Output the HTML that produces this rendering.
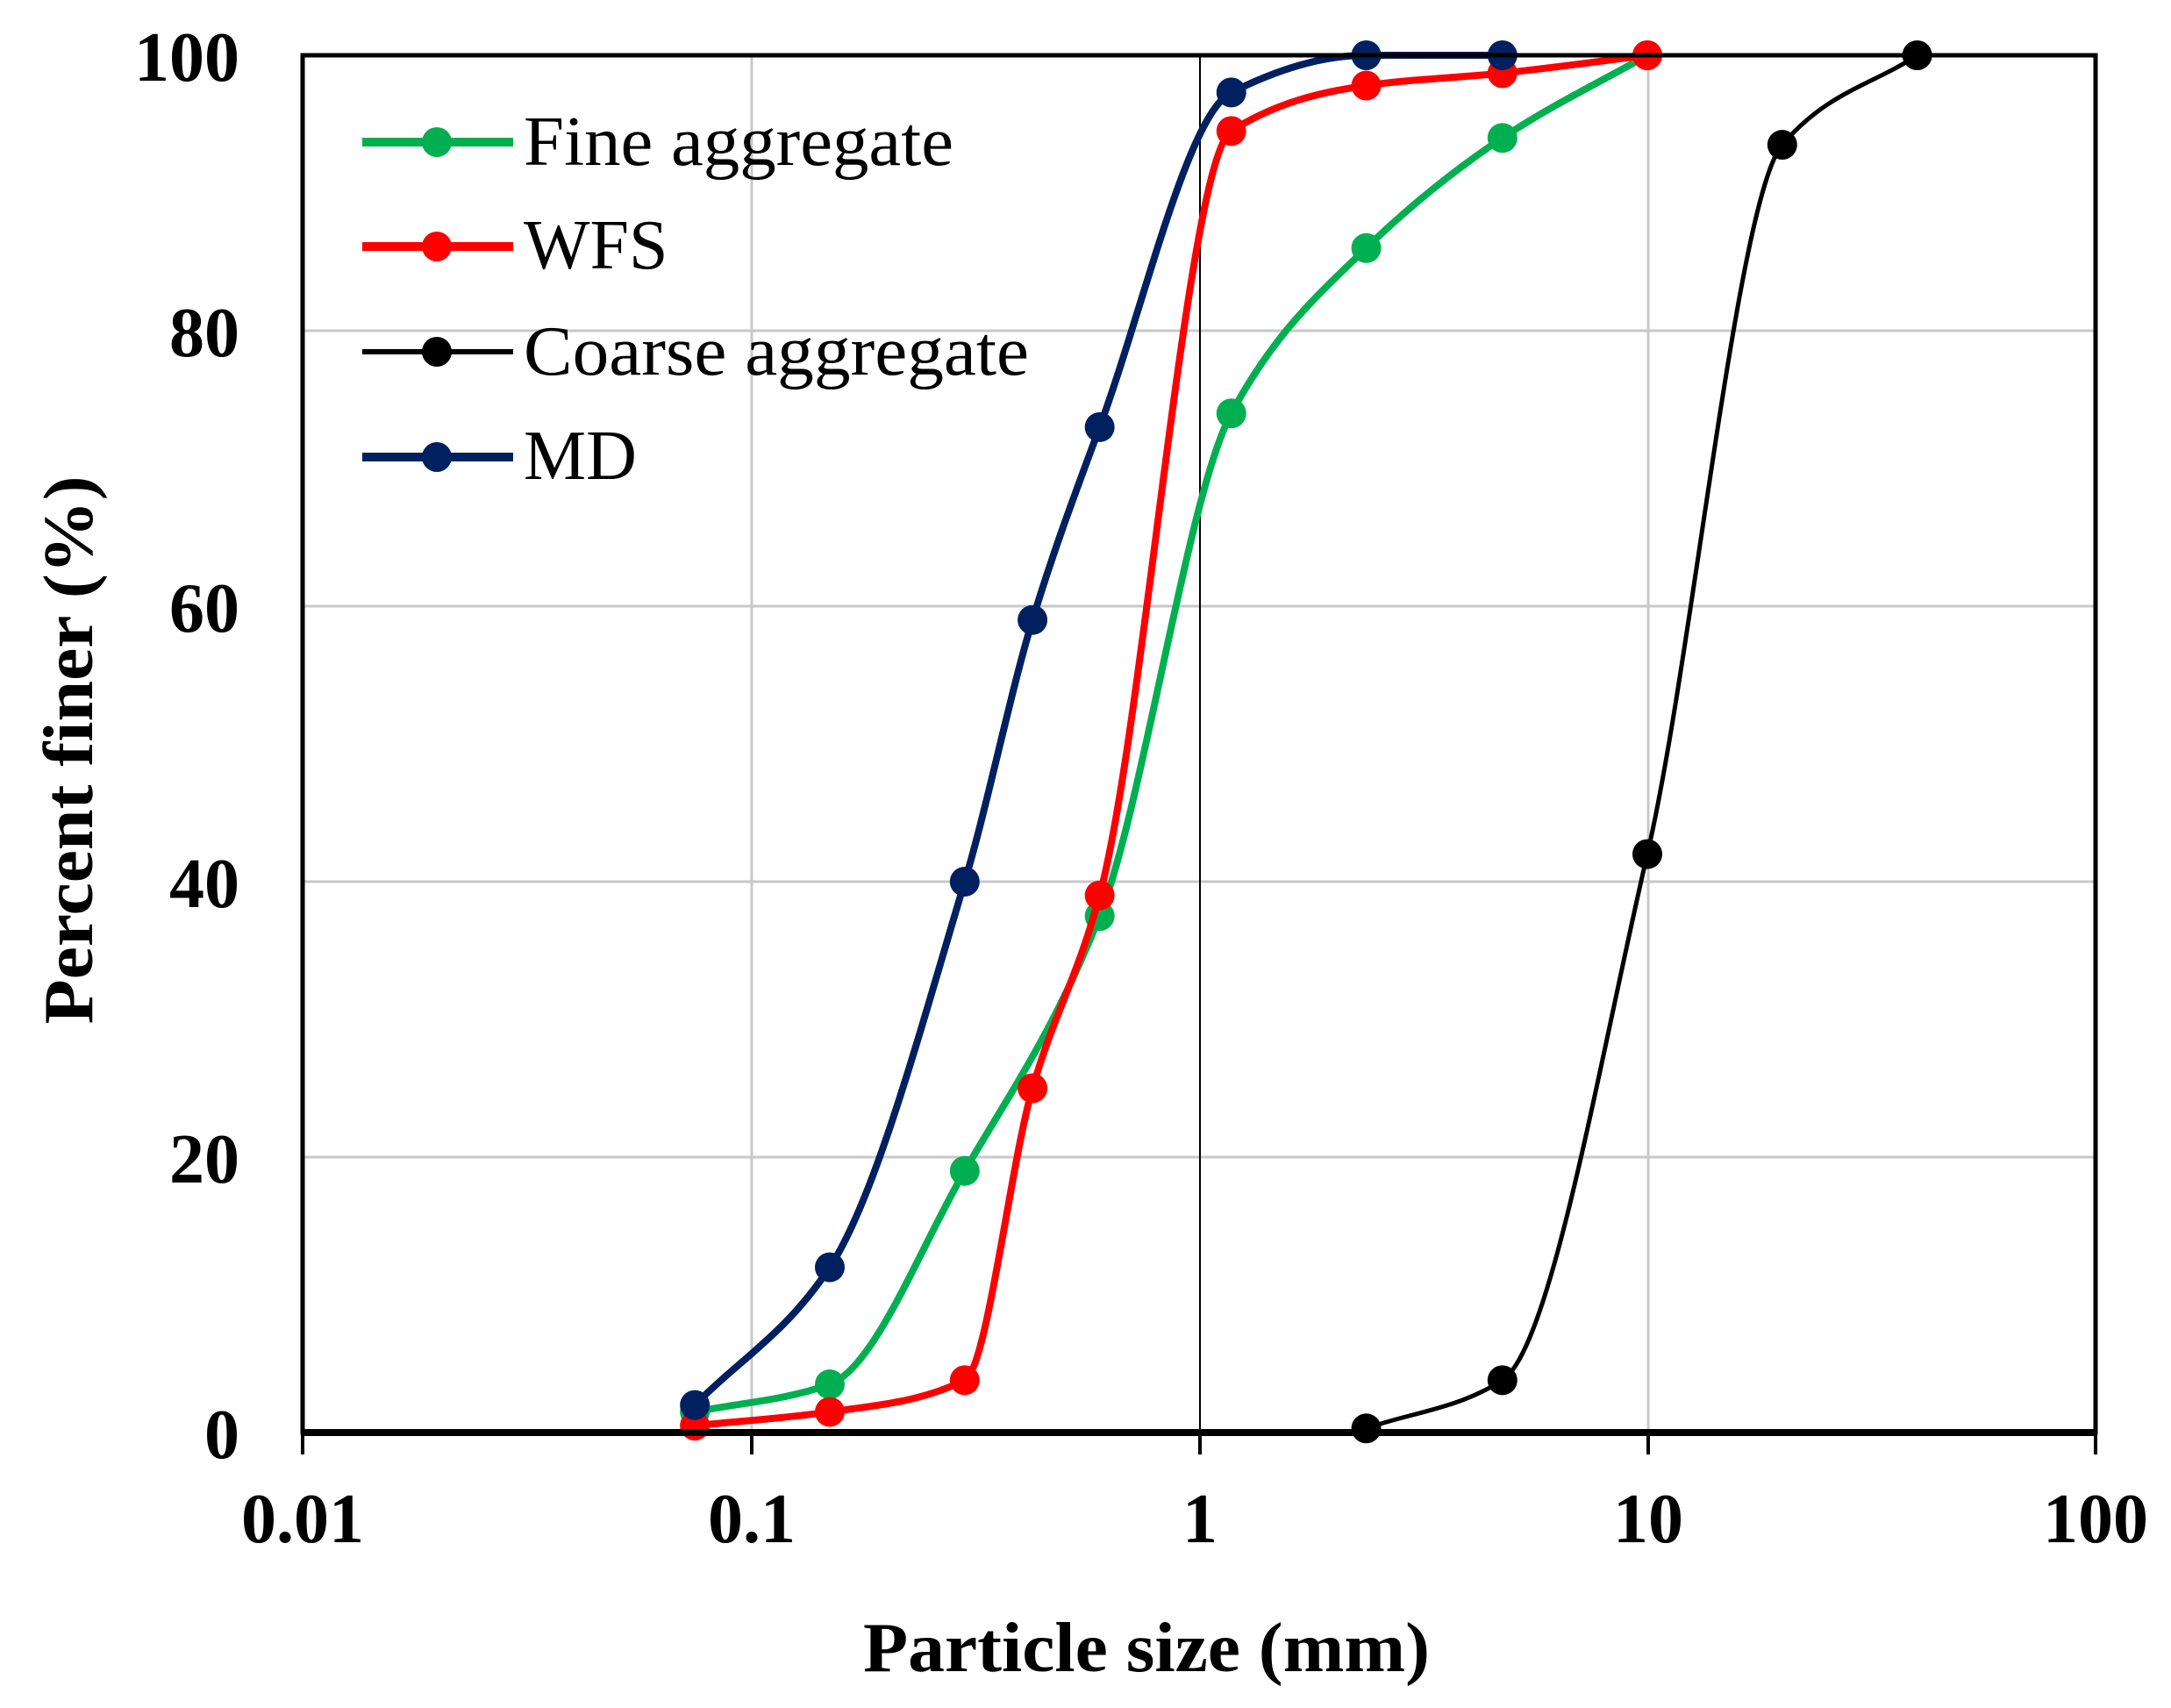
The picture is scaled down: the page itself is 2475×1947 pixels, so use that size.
<!DOCTYPE html>
<html><head><meta charset="utf-8"><style>
html,body{margin:0;padding:0;background:#fff}
svg{display:block}
text{font-family:"Liberation Serif","Times New Roman",serif;fill:#000}
</style></head><body>
<svg id="s" width="2475" height="1947" viewBox="0 0 2475 1947" xmlns="http://www.w3.org/2000/svg">
<g stroke="#c8c8c8" stroke-width="3">
<line x1="345" y1="377" x2="2389" y2="377"/><line x1="345" y1="691" x2="2389" y2="691"/>
<line x1="345" y1="1005" x2="2389" y2="1005"/><line x1="345" y1="1319" x2="2389" y2="1319"/>
<line x1="857" y1="63" x2="857" y2="1633"/><line x1="1879" y1="63" x2="1879" y2="1633"/>
</g>
<line x1="1368" y1="63" x2="1368" y2="1633" stroke="#000" stroke-width="2"/>
<g stroke="#000" stroke-width="4">
<line x1="345" y1="1633" x2="345" y2="1658"/><line x1="857" y1="1633" x2="857" y2="1658"/>
<line x1="1368" y1="1633" x2="1368" y2="1658"/><line x1="1879" y1="1633" x2="1879" y2="1658"/>
<line x1="2389" y1="1633" x2="2389" y2="1658"/>
</g>
<g id="series"></g>
<rect x="345" y="63" width="2044" height="1570" fill="none" stroke="#000" stroke-width="5"/>
<line x1="345" y1="1633" x2="2389" y2="1633" stroke="#000" stroke-width="8"/>
<g font-size="80" font-weight="bold" text-anchor="end">
<text x="273" y="92">100</text><text x="273" y="406">80</text><text x="273" y="720">60</text>
<text x="273" y="1034">40</text><text x="273" y="1348">20</text><text x="273" y="1662">0</text>
</g>
<g font-size="80" font-weight="bold" text-anchor="middle">
<text x="345" y="1758">0.01</text><text x="857" y="1758">0.1</text><text x="1368" y="1758">1</text>
<text x="1879" y="1758">10</text><text x="2389" y="1758">100</text>
<text x="1307" y="1905" textLength="646" lengthAdjust="spacingAndGlyphs">Particle size (mm)</text>
<text transform="translate(105,855) rotate(-90)" textLength="625" lengthAdjust="spacingAndGlyphs">Percent finer (%)</text>
</g>
<g font-size="80">
<line x1="413" y1="162" x2="585" y2="162" stroke="#00b050" stroke-width="10"/><circle cx="498" cy="162" r="17" fill="#00b050"/>
<text x="597" y="188" textLength="490" lengthAdjust="spacingAndGlyphs">Fine aggregate</text>
<line x1="413" y1="281" x2="585" y2="281" stroke="#ff0000" stroke-width="10"/><circle cx="498" cy="281" r="17" fill="#ff0000"/>
<text x="597" y="306">WFS</text>
<line x1="413" y1="401" x2="585" y2="401" stroke="#000" stroke-width="6"/><circle cx="498" cy="401" r="17" fill="#000"/>
<text x="597" y="427" textLength="576" lengthAdjust="spacingAndGlyphs">Coarse aggregate</text>
<line x1="413" y1="521" x2="585" y2="521" stroke="#002060" stroke-width="10"/><circle cx="498" cy="521" r="17" fill="#002060"/>
<text x="597" y="546">MD</text>
</g>
</svg>
<script>
function X(v){return 345+511*(Math.log10(v)+2);}
function Y(p){return 1633-15.7*p;}
var S=[
["#00b050",8,[[0.075,1.5],[0.15,3.5],[0.3,19],[0.6,37.5],[1.18,74],[2.36,86],[4.75,94],[10,100]]],
["#ff0000",8,[[0.075,0.5],[0.15,1.5],[0.3,3.8],[0.425,25],[0.6,39],[1.18,94.5],[2.36,97.8],[4.75,98.7],[10,100]]],
["#000000",5,[[2.36,0.3],[4.75,3.8],[10,42],[20,93.5],[40,100]]],
["#002060",8,[[0.075,2],[0.15,12],[0.3,40],[0.425,59],[0.6,73],[1.18,97.3],[2.36,100],[4.75,100]]]
];
var g=document.getElementById('series'),h='';
S.forEach(function(s){
 var P=s[2].map(function(d){return [X(d[0]),Y(d[1])];});
 var n=P.length,dl=[],m=[];
 for(var i=0;i<n-1;i++)dl.push((P[i+1][1]-P[i][1])/(P[i+1][0]-P[i][0]));
 m[0]=dl[0];m[n-1]=dl[n-2];
 for(var i=1;i<n-1;i++){
  if(dl[i-1]*dl[i]<=0)m[i]=0;
  else{var w1=2*(P[i+1][0]-P[i][0])+(P[i][0]-P[i-1][0]),w2=(P[i+1][0]-P[i][0])+2*(P[i][0]-P[i-1][0]);
   m[i]=(w1+w2)/(w1/dl[i-1]+w2/dl[i]);}
 }
 var d='M'+P[0][0]+','+P[0][1];
 for(var i=0;i<n-1;i++){
  var hx=(P[i+1][0]-P[i][0])/3;
  d+=' C'+(P[i][0]+hx)+','+(P[i][1]+m[i]*hx)+' '+(P[i+1][0]-hx)+','+(P[i+1][1]-m[i+1]*hx)+' '+P[i+1][0]+','+P[i+1][1];
 }
 h+='<path d="'+d+'" fill="none" stroke="'+s[0]+'" stroke-width="'+s[1]+'"/>';
 P.forEach(function(p){h+='<circle cx="'+p[0]+'" cy="'+p[1]+'" r="17" fill="'+s[0]+'"/>';});
});
g.innerHTML=h;
</script>
</body></html>
